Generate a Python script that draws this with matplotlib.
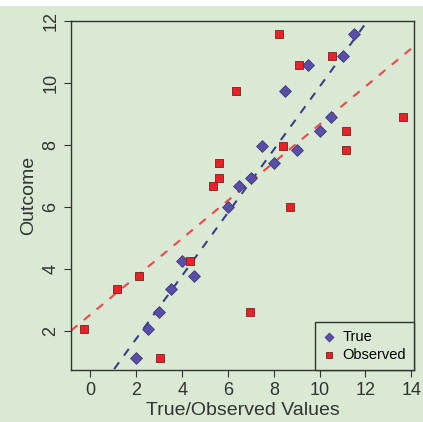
import matplotlib
matplotlib.use("Agg")
import matplotlib.pyplot as plt
from matplotlib.patches import Rectangle

plt.rcParams['font.family'] = ['Liberation Sans', 'DejaVu Sans']

# true values (diamonds)
true_x = [2.0, 2.5, 3.0, 3.5, 4.0, 4.5, 6.0, 6.5, 7.0, 7.5, 8.0, 8.5, 9.0, 9.5, 10.0, 10.5, 11.0, 11.5]
true_y = [1.14, 2.07, 2.6, 3.35, 4.26, 3.77, 6.01, 6.69, 6.94, 7.96, 7.41, 9.75, 7.84, 10.57, 8.46, 8.91, 10.88, 11.59]

# observed values (squares)
obs_x = [-0.3, 1.14, 2.13, 3.02, 4.36, 5.35, 5.61, 5.61, 6.35, 6.98, 8.22, 8.42, 8.71, 9.1, 10.53, 11.16, 11.16, 13.62]
obs_y = [2.07, 3.35, 3.77, 1.14, 4.26, 6.69, 6.94, 7.41, 9.74, 2.6, 11.59, 7.96, 6.01, 10.57, 10.88, 8.46, 7.84, 8.91]

# fitted lines (slope, intercept)
true_fit = (1.016, -0.28)
obs_fit = (0.613, 2.53)

bg = "#d9e9d3"
fig = plt.figure(figsize=(4.23, 4.22), dpi=100, facecolor=bg)
fig.patches.append(Rectangle((0, 1 - 6/422), 1, 6/422, transform=fig.transFigure,
                             facecolor="white", edgecolor="none", zorder=-1))
ax = fig.add_axes([71/423, 1 - 370/422, (414 - 71)/423, (370 - 21)/422])
ax.set_facecolor(bg)

xmin, xmax = -0.85, 14.12
ax.set_xlim(xmin, xmax)
ax.set_ylim(0.74, 12.0)

xs = [xmin, xmax]
ax.plot(xs, [true_fit[0]*v + true_fit[1] for v in xs], ls=(0, (4, 4)), color="#3b3f86", lw=1.5, zorder=2)
ax.plot(xs, [obs_fit[0]*v + obs_fit[1] for v in xs], ls=(0, (4, 4)), color="#f04848", lw=1.5, zorder=2)

ax.scatter(true_x, true_y, marker="D", s=36, color="#5a4fa6", edgecolor="#3e3782", lw=0.6, label="True", zorder=3)
ax.scatter(obs_x, obs_y, marker="s", s=36, color="#e82228", edgecolor="#7a2020", lw=0.6, label="Observed", zorder=3)

ax.set_xticks(range(0, 15, 2))
ax.set_yticks(range(2, 13, 2))
ax.tick_params(axis="both", direction="out", length=5, width=0.8, labelsize=13, colors="#333333")
ax.tick_params(axis="y", labelrotation=90)
for lab in ax.get_yticklabels():
    lab.set_va("center")
for s in ax.spines.values():
    s.set_color("#333333")
    s.set_linewidth(1)

ax.set_xlabel("True/Observed Values", fontsize=14, color="#333333", labelpad=2)
ax.set_ylabel("Outcome", fontsize=14, color="#333333", labelpad=4)

leg = ax.legend(loc="lower right", fontsize=10.5, frameon=True, fancybox=False,
                borderaxespad=0, handlelength=0.8, handletextpad=0.5, markerscale=0.75,
                borderpad=0.55, labelspacing=0.3)
leg.get_frame().set_facecolor(bg)
leg.get_frame().set_edgecolor("#333333")
leg.get_frame().set_alpha(1)

fig.savefig("out.png", dpi=100, facecolor=bg)
